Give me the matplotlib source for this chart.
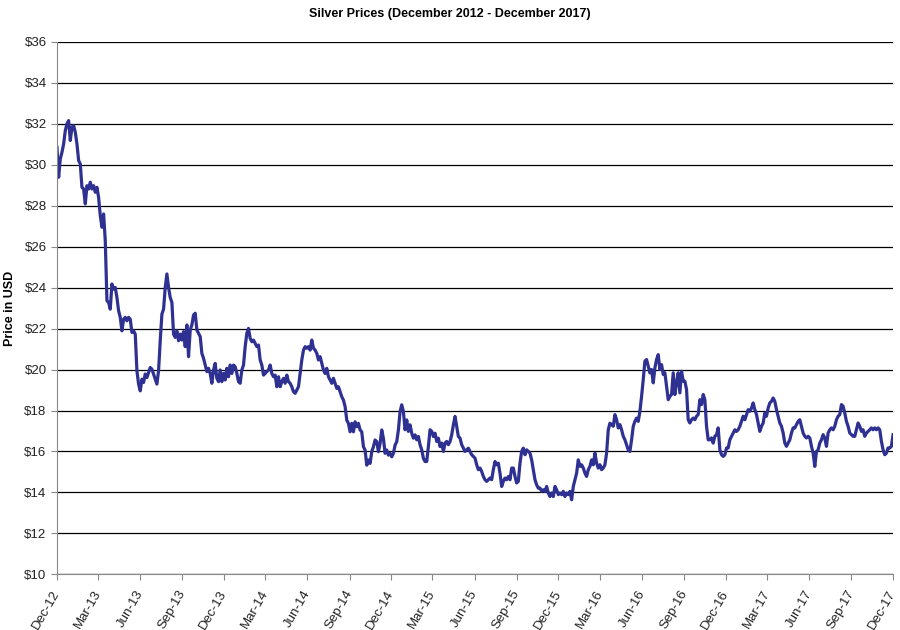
import numpy as np
import pandas as pd
import matplotlib
matplotlib.use("Agg")
import matplotlib.pyplot as plt
import matplotlib.dates as mdates

plt.rcParams['font.family'] = ['Liberation Sans', 'DejaVu Sans']

# ---------------- data (evenly spaced samples) ----------------
start = "2012-12-01"
end = "2017-12-01"

# Dec 2012 - Sep 2013
prices_a = [30.86, 29.39, 30.29, 30.61, 31.02, 31.67, 32.00, 32.16, 31.19, 31.84,
            31.92, 31.59, 31.02, 30.21, 30.04, 28.90, 28.82, 28.09, 28.98, 28.82,
            29.15, 28.82, 28.98, 28.66, 28.90, 28.41, 27.52, 26.95, 27.60, 26.30,
            23.36, 23.28, 22.95, 24.18, 23.93, 24.01, 23.52, 22.87, 22.55, 21.89,
            22.46, 22.55, 22.38, 22.55, 22.46, 21.81, 21.89, 21.73, 19.94, 19.29,
            18.96, 19.53, 19.37, 19.78, 19.61, 19.86, 20.10, 20.02, 19.78, 19.53,
            19.29, 19.94, 21.41, 22.71, 22.95, 24.01, 24.67, 24.01, 23.52, 23.28,
            21.73, 21.57, 21.89, 21.41, 21.73]

# Sep 2013 - Dec 2014
prices_b = [21.44, 21.85, 21.12, 22.18, 20.63, 21.93, 22.18, 22.66, 22.75, 21.93,
            21.77, 21.61, 20.79, 20.55, 20.22, 19.90, 20.06, 19.81, 19.33, 19.98,
            20.30, 19.57, 19.41, 19.98, 19.41, 19.81, 19.49, 20.06, 19.65, 20.22,
            19.81, 20.22, 20.14, 19.81, 19.41, 19.33, 19.98, 20.22, 21.12, 21.77,
            22.01, 21.52, 21.36, 21.44, 21.28, 21.12, 21.20, 20.47, 20.22, 19.73,
            19.81, 19.90, 19.98, 20.22, 19.81, 19.65, 19.73, 19.16, 19.65, 19.16,
            19.41, 19.57, 19.33, 19.73, 19.41, 19.33, 19.16, 18.92, 18.84, 19.00,
            19.16, 19.81, 20.47, 20.95, 21.12, 21.04, 21.12, 20.95, 21.44, 21.04,
            20.95, 20.79, 20.47, 20.63, 20.30, 19.98, 19.81, 20.06, 19.65, 19.49,
            19.33, 19.57, 19.33, 19.08, 19.16, 18.92, 18.67, 18.51, 18.19, 17.53,
            17.37, 16.96, 17.37, 16.96, 17.45, 17.21, 17.37, 17.05, 16.96, 16.23,
            16.07, 15.33, 15.58, 15.42, 15.99, 16.23, 16.56, 16.48, 15.99, 16.39,
            17.05, 16.64, 15.91, 16.07, 15.82, 15.91, 15.74, 15.91, 16.31, 16.48,
            17.05, 17.94]

# Dec 2014 - Mar 2016
prices_c = [18.28, 17.95, 17.06, 17.54, 16.98, 17.30, 16.89, 16.65, 16.81, 16.57,
            16.73, 16.33, 16.08, 15.67, 15.51, 15.51, 16.24, 17.06, 16.98, 16.73,
            16.89, 16.49, 16.65, 16.24, 16.41, 16.00, 16.41, 16.49, 16.33, 16.49,
            16.81, 17.30, 17.71, 17.22, 16.73, 16.65, 16.33, 16.16, 16.00, 16.08,
            16.16, 16.00, 15.84, 15.76, 15.67, 15.35, 15.11, 15.19, 15.02, 14.78,
            14.62, 14.54, 14.62, 14.70, 14.62, 15.11, 15.51, 15.35, 15.43, 14.94,
            14.29, 14.54, 14.70, 14.62, 14.78, 14.62, 15.19, 15.19, 14.78, 14.46,
            14.54, 15.43, 16.00, 16.16, 15.84, 16.08, 16.00, 15.92, 15.59, 15.11,
            14.62, 14.37, 14.21, 14.21, 14.05, 14.13, 14.05, 14.29, 13.97, 13.80,
            13.97, 13.80, 14.29, 14.13, 13.89, 13.97, 13.89, 14.05, 13.80, 13.97,
            13.89, 14.05, 13.64, 14.29, 14.62, 14.94, 15.59, 15.27, 15.35, 15.19,
            14.94, 14.78, 15.11, 15.27, 15.59, 15.35, 15.92, 15.43, 15.19, 15.35,
            15.11, 15.19, 15.35, 15.92, 17.06, 17.38]

# Mar 2016 - Dec 2017
prices_d = [17.31, 17.23, 17.80, 17.55, 17.15, 17.31, 17.06, 16.74, 16.57, 16.33,
            16.08, 16.00, 16.57, 17.23, 17.47, 17.63, 17.47, 17.96, 18.69, 19.51,
            20.41, 20.49, 20.16, 19.84, 20.00, 19.35, 20.08, 20.49, 20.73, 20.00,
            20.24, 19.76, 19.84, 19.18, 18.53, 18.69, 18.78, 19.84, 18.78, 19.35,
            19.84, 18.86, 19.92, 19.43, 19.43, 19.02, 17.55, 17.39, 17.55, 17.63,
            17.55, 17.72, 17.80, 18.53, 18.29, 18.78, 18.53, 17.23, 16.57, 16.57,
            16.66, 16.41, 16.74, 16.82, 17.15, 16.08, 15.84, 15.76, 15.84, 16.17,
            16.17, 16.57, 16.74, 16.90, 17.06, 16.98, 17.06, 17.23, 17.47, 17.72,
            17.55, 17.80, 18.04, 17.96, 18.12, 18.37, 18.04, 17.80, 17.39, 16.98,
            17.23, 17.39, 17.88, 17.72, 18.12, 18.37, 18.45, 18.61, 18.45, 18.04,
            17.72, 17.39, 17.23, 16.90, 16.41, 16.25, 16.41, 16.57, 16.90, 17.15,
            17.15, 17.31, 17.47, 17.55, 17.23, 16.90, 16.74, 16.66, 16.74, 16.66,
            16.25, 15.92, 15.27, 16.00, 16.08, 16.41, 16.57, 16.82, 16.66, 16.25,
            16.90, 17.06, 17.15, 17.06, 17.23, 17.55, 17.72, 17.80, 18.29, 18.21,
            17.88, 17.47, 17.23, 16.90, 16.82, 16.74, 16.74, 17.06, 17.39, 17.23,
            16.98, 17.06, 16.74, 16.90, 16.98, 17.06, 17.15, 17.06, 17.15, 17.06,
            17.15, 17.06, 16.49, 16.08, 15.84, 15.92, 16.17, 16.17, 16.25, 16.82]

prices = prices_a + prices_b + prices_c + prices_d
dates = pd.date_range(start, end, periods=len(prices))

y_ticks = np.arange(10, 37, 2)

# ---------------- plot ----------------
fig = plt.figure(figsize=(9, 6.3), dpi=100)
ax = fig.add_axes([0.0633, 0.0884, 0.929, 0.845])

ax.plot(dates, prices, color='#2E3192', lw=2.3, solid_joinstyle='round')

ax.set_ylim(10, 36)
ax.set_yticks(y_ticks)
ax.set_yticklabels(['$%d' % v for v in y_ticks], fontsize=9.5, color='#222222')
ax.yaxis.grid(True, color='black', lw=0.9)
ax.set_axisbelow(True)

ax.set_xlim(pd.Timestamp(start), pd.Timestamp(end))
ax.xaxis.set_major_locator(mdates.MonthLocator(bymonth=[3, 6, 9, 12]))
ax.xaxis.set_major_formatter(mdates.DateFormatter('%b-%y'))
for lbl in ax.get_xticklabels():
    lbl.set_rotation(60)
    lbl.set_ha('right')
    lbl.set_va('center')
    lbl.set_rotation_mode('anchor')
    lbl.set_fontsize(9.5)
    lbl.set_color('#222222')

for s in ['top', 'right']:
    ax.spines[s].set_visible(False)
for s in ['left', 'bottom']:
    ax.spines[s].set_color('#888888')
ax.tick_params(axis='both', length=4, color='#888888', direction='out')
ax.tick_params(axis='x', pad=8)

ax.set_ylabel('Price in USD', fontsize=9, fontweight='bold', labelpad=6)
fig.text(0.5, 0.978, 'Silver Prices (December 2012 - December 2017)',
         ha='center', va='center', fontsize=9, fontweight='bold')

fig.savefig('out.png', dpi=100)
